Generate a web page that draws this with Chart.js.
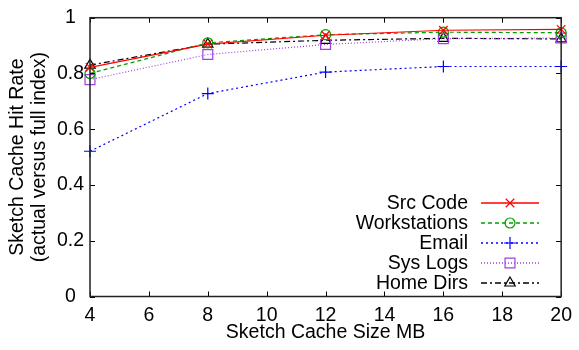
<!DOCTYPE html>
<html>
<head>
<meta charset="utf-8">
<script src="https://cdn.jsdelivr.net/npm/chart.js@4/dist/chart.umd.min.js"></script>
<style>
html,body{margin:0;padding:0;background:#fff;}
#wrap{width:579px;height:350px;}
</style>
</head>
<body>
<div id="wrap"><canvas id="c" width="579" height="350"></canvas></div>
<script>
const cacheSizes = [4, 8, 12, 16, 20];
const srcCode = [0.822, 0.905, 0.937, 0.955, 0.958];
const workstations = [0.800, 0.910, 0.939, 0.948, 0.946];
const email = [0.521, 0.728, 0.805, 0.825, 0.825];
const sysLogs = [0.778, 0.868, 0.904, 0.925, 0.927];
const homeDirs = [0.830, 0.905, 0.919, 0.926, 0.924];
const seriesNames = ['Src Code', 'Workstations', 'Email', 'Sys Logs', 'Home Dirs'];
const xTicks = [4, 6, 8, 10, 12, 14, 16, 18, 20];
const yTicks = [0, 0.2, 0.4, 0.6, 0.8, 1];

const FONT = 'Liberation Sans, Arial, Helvetica, sans-serif';
const FS = 19.5;
const pts = arr => arr.map((v, i) => ({x: cacheSizes[i], y: v}));

const styles = [
  {color: '#ff0000', dash: [], point: 'crossRot', r: 6},
  {color: '#00a000', dash: [4, 3], point: 'circle', r: 5},
  {color: '#0000ff', dash: [2, 3], point: 'cross', r: 6},
  {color: '#a040e0', dash: [1, 2], point: 'rect', r: 7},
  {color: '#000000', dash: [6, 3, 2, 3], point: 'triangle', r: 6}
];
const values = [srcCode, workstations, email, sysLogs, homeDirs];

const datasets = values.map((vals, i) => ({
  label: seriesNames[i],
  data: pts(vals),
  borderColor: styles[i].color,
  backgroundColor: 'rgba(0,0,0,0)',
  borderWidth: 1.2,
  borderDash: styles[i].dash,
  pointStyle: styles[i].point,
  pointRadius: styles[i].r,
  pointBorderWidth: 1.2,
  pointBorderColor: styles[i].color,
  pointBackgroundColor: 'rgba(0,0,0,0)',
  tension: 0,
  clip: false
}));

const framePlugin = {
  id: 'frame',
  afterDatasetsDraw(chart) {
    const ctx = chart.ctx;
    const a = chart.chartArea;
    const xs = chart.scales.x, ys = chart.scales.y;
    ctx.save();
    ctx.strokeStyle = '#000';
    ctx.lineWidth = 1;
    ctx.setLineDash([]);
    const tl = 5;
    ctx.beginPath();
    xTicks.forEach(t => {
      const px = Math.round(xs.getPixelForValue(t)) + 0.5;
      ctx.moveTo(px, a.bottom); ctx.lineTo(px, a.bottom - tl);
      ctx.moveTo(px, a.top); ctx.lineTo(px, a.top + tl);
    });
    yTicks.forEach(t => {
      const py = Math.round(ys.getPixelForValue(t)) + 0.5;
      ctx.moveTo(a.left, py); ctx.lineTo(a.left + tl, py);
      ctx.moveTo(a.right, py); ctx.lineTo(a.right - tl, py);
    });
    ctx.stroke();
    ctx.lineWidth = 1.5;
    ctx.strokeStyle = '#222';
    ctx.strokeRect(a.left, a.top, a.right - a.left, a.bottom - a.top);
    ctx.restore();
  },
  afterDraw(chart) {
    const ctx = chart.ctx;
    const textRight = 468, lineL = 481, lineR = 539, markX = 510;
    const y0 = 202.5, step = 20;
    chart.data.datasets.forEach((ds, i) => {
      const y = Math.round(y0 + i * step);
      const col = styles[i].color;
      ctx.save();
      ctx.font = FS + 'px ' + FONT;
      ctx.textAlign = 'right';
      ctx.textBaseline = 'middle';
      ctx.fillStyle = '#000';
      ctx.fillText(ds.label, textRight, y + 1);
      ctx.restore();

      ctx.save();
      ctx.lineWidth = 1.4;
      ctx.setLineDash(styles[i].dash);
      ctx.strokeStyle = col;
      ctx.beginPath();
      ctx.moveTo(lineL, y);
      ctx.lineTo(lineR, y);
      ctx.stroke();
      ctx.restore();

      ctx.save();
      ctx.setLineDash([]);
      ctx.fillStyle = 'rgba(0,0,0,0)';
      ctx.strokeStyle = col;
      ctx.lineWidth = 1.2;
      Chart.helpers.drawPoint(ctx, {
        pointStyle: styles[i].point, radius: styles[i].r, rotation: 0, borderWidth: 1.2
      }, markX, y);
      ctx.restore();
    });
  }
};

new Chart(document.getElementById('c'), {
  type: 'line',
  data: {datasets},
  plugins: [framePlugin],
  options: {
    responsive: false,
    animation: false,
    devicePixelRatio: 1,
    layout: {padding: {left: 0, right: 16, top: 12, bottom: 0}},
    plugins: {legend: {display: false}, tooltip: {enabled: false}},
    scales: {
      x: {
        type: 'linear', min: 4, max: 20,
        afterBuildTicks: s => { s.ticks = xTicks.map(v => ({value: v})); },
        afterFit: s => { s.height = 53.5; },
        grid: {display: false, drawTicks: false},
        border: {display: false},
        ticks: {color: '#000', font: {family: FONT, size: FS}, padding: 7, maxRotation: 0,
                callback: v => String(v)},
        title: {display: true, text: 'Sketch Cache Size MB', color: '#000',
                font: {family: FONT, size: FS}, padding: {top: 0, bottom: 6}}
      },
      y: {
        type: 'linear', min: 0, max: 1,
        afterBuildTicks: s => { s.ticks = yTicks.map(v => ({value: v})); },
        afterFit: s => { s.width = 90; },
        grid: {display: false, drawTicks: false},
        border: {display: false},
        ticks: {color: '#000', font: {family: FONT, size: FS}, padding: 6, crossAlign: 'center',
                callback: v => String(Math.round(v * 10) / 10)},
        title: {display: true, text: ['Sketch Cache Hit Rate', '(actual versus full index)'], color: '#000',
                font: {family: FONT, size: FS, lineHeight: '22px'}, padding: {top: 7, bottom: 0}}
      }
    }
  }
});
</script>
</body>
</html>
